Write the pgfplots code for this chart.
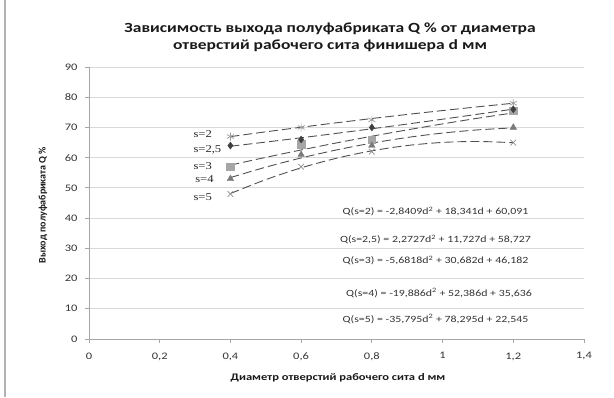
\documentclass[border=0pt]{standalone}
\usepackage{fontspec}
\setmainfont[FakeStretch=1.25]{Carlito}
\newfontfamily\plainfont{Carlito}
\usepackage{pgfplots}
\pgfplotsset{compat=1.18}
\definecolor{gridc}{HTML}{D9D9D9}
\definecolor{axc}{HTML}{A6A6A6}
\definecolor{trend}{HTML}{505050}
\definecolor{mkA}{HTML}{9A9A9A}
\definecolor{mkB}{HTML}{404040}
\definecolor{mkC}{HTML}{A6A6A6}
\definecolor{mkD}{HTML}{7A7A7A}
\definecolor{mkE}{HTML}{909090}
\tikzset{slab/.style={font={\fontspec{Liberation Serif}[FakeStretch=1.2]\fontsize{10.5}{12}\selectfont}, anchor=west, inner sep=0pt, text=black!85}}
\begin{document}
\begin{tikzpicture}[x=1pt,y=1pt]
\path[use as bounding box] (0,0) rectangle (614,397);
\draw[gray!60, line width=1.2pt] (5,0) -- (5,397);
\node[font=\bfseries\fontsize{14}{17}\selectfont, align=center, text=black!90] at (330,360)
  {Зависимость выхода полуфабриката Q \% от диаметра\\отверстий рабочего сита финишера d мм};
\node[font=\bfseries\fontsize{10}{12}\selectfont, text=black!90] at (338,19) {Диаметр отверстий рабочего сита d мм};
\node[font=\plainfont\bfseries\fontsize{10}{12}\selectfont, rotate=90, text=black!90] at (43,192) {Выход полуфабриката Q \%};
\begin{axis}[
  at={(89pt,58pt)}, anchor=south west,
  scale only axis, width=495pt, height=272pt,
  xmin=0, xmax=1.4, ymin=0, ymax=90,
  xtick={0,0.2,0.4,0.6,0.8,1,1.2,1.4},
  ytick={0,10,20,30,40,50,60,70,80,90},
  axis x line=bottom, axis y line=left,
  axis line style={axc, -, line width=0.8pt},
  ymajorgrids, grid style={gridc, line width=0.8pt},
  tick align=outside, major tick length=4pt, tick style={axc, line width=0.8pt},
  /pgf/number format/use comma,
  /pgf/number format/assume math mode=true,
  tick label style={font=\fontsize{10}{12}\selectfont, text=black!80},
  xticklabel style={yshift=-6pt},
  yticklabel style={xshift=-4pt},
  clip=false,
]
% trend lines (quadratic fits, sampled)
\addplot[trend, line width=0.9pt, dash pattern=on 9pt off 4pt, smooth] coordinates {
 (0.4,66.97) (0.5,68.55) (0.6,70.07) (0.7,71.54) (0.8,72.95) (0.9,74.30) (1.0,75.59) (1.1,76.83) (1.2,78.01)};
\addplot[trend, line width=0.9pt, dash pattern=on 9pt off 4pt, smooth] coordinates {
 (0.4,63.78) (0.5,65.16) (0.6,66.58) (0.7,68.05) (0.8,69.56) (0.9,71.12) (1.0,72.73) (1.1,74.38) (1.2,76.07)};
\addplot[trend, line width=0.9pt, dash pattern=on 9pt off 4pt, smooth] coordinates {
 (0.4,57.55) (0.5,60.10) (0.6,62.55) (0.7,64.88) (0.8,67.09) (0.9,69.19) (1.0,71.18) (1.1,73.06) (1.2,74.82)};
\addplot[trend, line width=0.9pt, dash pattern=on 9pt off 4pt, smooth] coordinates {
 (0.4,53.41) (0.5,56.86) (0.6,59.91) (0.7,62.56) (0.8,64.82) (0.9,66.68) (1.0,68.14) (1.1,69.20) (1.2,69.86)};
\addplot[trend, line width=0.9pt, dash pattern=on 9pt off 4pt, smooth] coordinates {
 (0.4,48.14) (0.5,52.74) (0.6,56.64) (0.7,59.81) (0.8,62.27) (0.9,64.02) (1.0,65.05) (1.1,65.36) (1.2,64.95)};
% data points
\addplot[only marks, mark=asterisk, mark size=4pt, mkA, line width=0.7pt] coordinates {
 (0.4,67) (0.6,70) (0.8,72.5) (1.2,78)};
\addplot[only marks, mark=square*, mark size=3.8pt, mkC, mark options={draw=mkC,fill=mkC}] coordinates {
 (0.4,57) (0.6,64.5) (0.8,66) (1.2,75.5)};
\addplot[only marks, mark=diamond*, mark size=3.5pt, mkB, mark options={draw=mkB,fill=mkB}] coordinates {
 (0.4,64) (0.6,66) (0.8,70) (1.2,76)};
\addplot[only marks, mark=triangle*, mark size=3.8pt, mkD, mark options={draw=mkD,fill=mkD}] coordinates {
 (0.4,53) (0.6,61) (0.8,64) (1.2,70)};
\addplot[only marks, mark=x, mark size=4pt, mkE, line width=0.7pt] coordinates {
 (0.4,48) (0.6,57) (0.8,62) (1.2,65)};
% series labels
\node[slab] at (axis cs:0.295,67.8) {s=2};
\node[slab] at (axis cs:0.295,62.6) {s=2,5};
\node[slab] at (axis cs:0.295,57.1) {s=3};
\node[slab] at (axis cs:0.300,52.9) {s=4};
\node[slab] at (axis cs:0.295,47.1) {s=5};
% trend equations
\begin{scope}[every node/.style={font=\fontsize{9.5}{11}\selectfont, text=black!80}]
\node at (axis cs:0.98,42.2) {Q(s=2) = -2,8409d\textsuperscript{2} + 18,341d + 60,091};
\node at (axis cs:0.98,32.9) {Q(s=2,5) = 2,2727d\textsuperscript{2} + 11,727d + 58,727};
\node at (axis cs:0.98,26.0) {Q(s=3) = -5,6818d\textsuperscript{2} + 30,682d + 46,182};
\node at (axis cs:0.99,15.3) {Q(s=4) = -19,886d\textsuperscript{2} + 52,386d + 35,636};
\node at (axis cs:0.98,6.5) {Q(s=5) = -35,795d\textsuperscript{2} + 78,295d + 22,545};
\end{scope}
\end{axis}
\end{tikzpicture}
\end{document}
